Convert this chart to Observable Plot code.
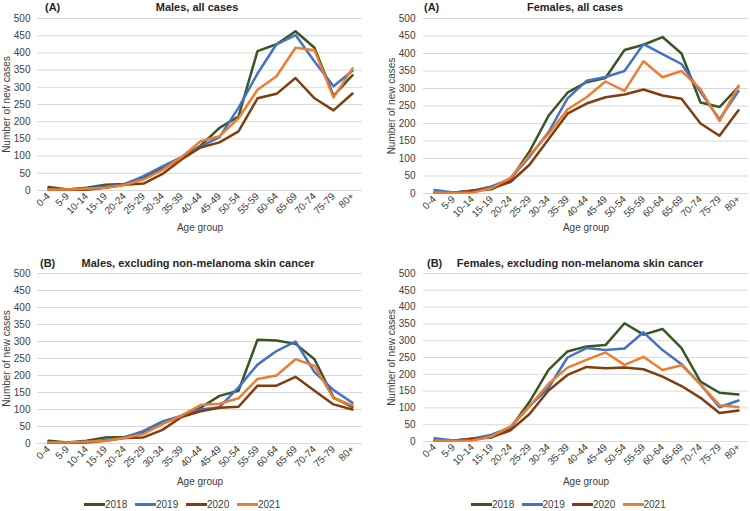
<!DOCTYPE html>
<html><head><meta charset="utf-8">
<script src="https://cdn.jsdelivr.net/npm/d3@7"></script>
<script src="https://cdn.jsdelivr.net/npm/@observablehq/plot@0.6"></script>
<style>
body{margin:0;background:#fff;font-family:"Liberation Sans",Arial,sans-serif;}
#wrap{position:relative;width:750px;height:511px;overflow:hidden;background:#fff;}
.panel{position:absolute;}
.tag,.ttl{position:absolute;font-weight:bold;font-size:11px;color:#262626;white-space:nowrap;line-height:13px;}
.ttl{transform:translateX(-50%);}
.legend{position:absolute;font-size:10px;color:#404040;z-index:5;line-height:12px;}
.item{position:absolute;white-space:nowrap;}
.sw{display:inline-block;width:21px;height:3px;vertical-align:middle;margin-right:0px;position:relative;top:-1px;}
</style></head>
<body><div id="wrap"></div>
<script>
const ageGroups = ["0-4","5-9","10-14","15-19","20-24","25-29","30-34","35-39","40-44","45-49","50-54","55-59","60-64","65-69","70-74","75-79","80+"];
const years = ["2018","2019","2020","2021"];
const yearColors = ["#385723","#4472C4","#843C0C","#ED7D31"];
const yTicks = [0,50,100,150,200,250,300,350,400,450,500];

// Males, all cases
const malesAll2018 = [10,3,8,17,19,38,65,95,130,182,215,405,425,463,415,275,335];
const malesAll2019 = [3,3,6,12,18,42,70,97,128,155,240,340,425,452,375,303,348];
const malesAll2020 = [3,2,2,8,17,20,48,90,125,140,172,268,281,327,268,233,282];
const malesAll2021 = [3,3,5,8,16,32,60,97,143,158,210,293,332,415,408,270,355];
// Females, all cases
const femalesAll2018 = [3,2,8,12,40,120,222,288,318,330,410,425,447,400,260,247,305];
const femalesAll2019 = [10,3,8,20,42,105,175,272,322,333,350,427,398,370,290,212,293];
const femalesAll2020 = [3,2,8,15,33,82,155,228,257,275,283,297,280,271,200,165,238];
const femalesAll2021 = [3,2,3,15,45,110,170,240,275,320,293,378,332,350,298,207,308];
// Males, excluding non-melanoma skin cancer
const malesExcl2018 = [8,3,8,18,19,32,60,80,105,140,155,305,303,293,248,135,108];
const malesExcl2019 = [3,3,5,10,18,37,65,82,100,107,165,232,272,300,210,157,120];
const malesExcl2020 = [2,2,3,8,16,18,40,78,95,105,108,170,170,196,155,115,100];
const malesExcl2021 = [3,3,5,8,16,28,57,82,113,117,133,190,200,248,228,133,112];
// Females, excluding non-melanoma skin cancer
const femalesExcl2018 = [3,2,8,12,40,118,213,268,283,287,352,318,335,278,178,145,140];
const femalesExcl2019 = [10,3,8,20,42,105,160,250,278,272,277,325,272,230,170,102,122];
const femalesExcl2020 = [3,2,8,13,33,82,152,198,222,218,220,215,193,165,130,85,92];
const femalesExcl2021 = [3,2,3,15,45,105,172,220,243,265,228,252,213,227,170,108,103];

const panels = [
  {tag:"(A)", title:"Males, all cases", series:[malesAll2018,malesAll2019,malesAll2020,malesAll2021],
   left:0, top:0, height:240, ml:37, mr:13, mt:18, mb:50, tagX:45, titleX:197, tagY:1, tp:7, lo:35, xo:40},
  {tag:"(A)", title:"Females, all cases", series:[femalesAll2018,femalesAll2019,femalesAll2020,femalesAll2021],
   left:375, top:0, height:240, ml:48, mr:2, mt:18, mb:47, tagX:424, titleX:575, tagY:1, tp:8, lo:36, xo:37},
  {tag:"(B)", title:"Males, excluding non-melanoma skin cancer", series:[malesExcl2018,malesExcl2019,malesExcl2020,malesExcl2021],
   left:0, top:255, height:234, ml:37, mr:13, mt:18, mb:46, tagX:40, titleX:198, tagY:257, tp:7, lo:35, xo:41},
  {tag:"(B)", title:"Females, excluding non-melanoma skin cancer", series:[femalesExcl2018,femalesExcl2019,femalesExcl2020,femalesExcl2021],
   left:375, top:255, height:234, ml:48, mr:2, mt:18, mb:48, tagX:427, titleX:580, tagY:257, tp:8, lo:36, xo:43}
];

const wrap = document.getElementById("wrap");

panels.forEach(p => {
  const data = [];
  years.forEach((yr, i) => p.series[i].forEach((v, j) => data.push({age: ageGroups[j], year: yr, value: v})));
  const chart = Plot.plot({
    width: 375, height: p.height,
    marginLeft: p.ml, marginRight: p.mr, marginTop: p.mt, marginBottom: p.mb,
    style: {fontFamily: "'Liberation Sans', Arial, sans-serif", fontSize: "10px", color: "#404040", background: "transparent"},
    x: {type: "point", domain: ageGroups, padding: 0.5},
    y: {domain: [0, 500]},
    color: {domain: years, range: yearColors},
    marks: [
      Plot.gridY(yTicks, {stroke: "#d9d9d9", strokeOpacity: 1, strokeWidth: 1}),
      Plot.axisY(yTicks, {tickSize: 0, tickPadding: p.tp, label: "Number of new cases", labelAnchor: "center", labelArrow: "none", labelOffset: p.lo, fontSize: 10}),
      Plot.axisX({tickSize: 0, tickPadding: 4, tickRotate: -45, label: "Age group", labelAnchor: "center", labelArrow: "none", labelOffset: p.xo, fontSize: 10}),
      Plot.lineY(data, {x: "age", y: "value", z: "year", stroke: "year", strokeWidth: 2.5, strokeLinejoin: "round"})
    ]
  });
  chart.classList.add("panel");
  chart.style.left = p.left + "px";
  chart.style.top = p.top + "px";
  wrap.appendChild(chart);

  const tag = document.createElement("div");
  tag.className = "tag"; tag.textContent = p.tag;
  tag.style.left = p.tagX + "px"; tag.style.top = p.tagY + "px";
  wrap.appendChild(tag);
  const ttl = document.createElement("div");
  ttl.className = "ttl"; ttl.textContent = p.title;
  ttl.style.left = p.titleX + "px"; ttl.style.top = p.tagY + "px";
  wrap.appendChild(ttl);
});

// legends
[[84, 51], [471, 50.5]].forEach(([lx, step]) => {
  const lg = document.createElement("div");
  lg.className = "legend"; lg.style.left = lx + "px"; lg.style.top = "499px";
  years.forEach((yr, i) => {
    const it = document.createElement("span");
    it.className = "item"; it.style.left = (i * step) + "px"; it.style.top = "0px";
    const sw = document.createElement("span");
    sw.className = "sw"; sw.style.background = yearColors[i];
    it.appendChild(sw);
    it.appendChild(document.createTextNode(yr));
    lg.appendChild(it);
  });
  wrap.appendChild(lg);
});
</script>
</body></html>
